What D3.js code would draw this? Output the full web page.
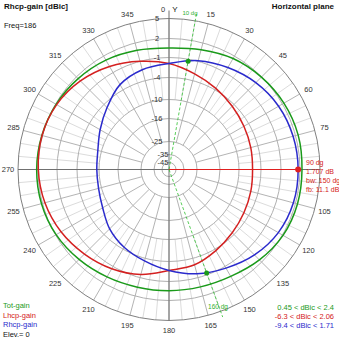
<!DOCTYPE html>
<html>
<head>
<meta charset="utf-8">
<script src="https://cdn.jsdelivr.net/npm/d3@7"></script>
<style>
  html, body { margin: 0; padding: 0; background: #fff; }
  svg { display: block; }
  text { font-family: "Liberation Sans", Arial, sans-serif; }
</style>
</head>
<body>
<svg id="chart" width="339" height="339"></svg>
<script>
// Azimuth angles (degrees, clockwise from top) for the gain samples
const azimuths = [0, 15, 30, 45, 60, 75, 90, 105, 120, 135, 150, 165, 180,
                  195, 210, 225, 240, 255, 270, 285, 300, 315, 330, 345];

// Gain in dBic per azimuth
const totGain  = [0.5, 0.9, 1.55, 1.95, 2.25, 2.4, 2.3, 2.3, 2.1, 1.5, 0.8, 0.5, 0.45,
                  0.55, 0.9, 1.4, 1.9, 2.15, 2.2, 2.1, 1.9, 1.6, 1.25, 0.8];
const lhcpGain = [-1.9, -2.95, -3.75, -4.7, -5.5, -6.0, -6.3, -6.0, -5.5, -4.7, -3.75, -3.0, -2.65,
                  -1.5, -0.6, 0.2, 1.0, 1.6, 1.95, 2.06, 1.8, 1.1, 0.1, -1.0];
const rhcpGain = [-1.9, -0.9, -0.1, 0.7, 1.3, 1.6, 1.707, 1.65, 1.25, 0.4, -0.7, -1.6, -2.65,
                  -3.6, -4.6, -6.2, -8.2, -9.2, -9.4, -9.0, -7.4, -5.2, -3.1, -2.3];

// Scale rings and their labels (dB)
const ringValues = [5, 2, -1, -4, -10, -16, -25, -35, -45];
const ringLabels = ["5", "2", "-1", "-4", "-10", "-16", "-25", "-35", "-45"];

// Azimuth tick labels
const angleTicks = [15, 30, 45, 60, 75, 105, 120, 135, 150, 165, 180, 195, 210,
                    225, 240, 255, 270, 285, 300, 315, 330, 345];

// Marker on the Rhcp maximum and its beamwidth edges
const markerAz = 90, markerGain = 1.707;
const bwEdges = [10, 160];
const bwGain = -1.293;
const markerLines = ["90 dg", "1.707 dB", "bw: 150 dg", "fb: 11.1 dB"];

const legendNames = ["Tot-gain", "Lhcp-gain", "Rhcp-gain"];
const legendRanges = ["0.45 < dBic < 2.4", "-6.3 < dBic < 2.06", "-9.4 < dBic < 1.71"];
const colors = ["#1a9a1a", "#d42020", "#2a2acc"];

const cx = 169, cy = 169.5;
const svg = d3.select("#chart");

// Logarithmic-style radial scale (piecewise through the ring positions)
const r = d3.scaleLinear()
  .domain([-45, -35, -25, -16, -10, -4, -1, 2, 5])
  .range([7, 15, 28, 51, 70, 92, 112, 131, 151])
  .clamp(true);
const R = r(5);
const rad = d => d * Math.PI / 180;

const g = svg.append("g").attr("transform", `translate(${cx},${cy})`);

// Minor spokes every 5 degrees, major every 15
const grid = g.append("g");
d3.range(0, 360, 5).forEach(a => {
  const major = a % 15 === 0;
  const r0 = major ? r(-25) : r(-10);
  grid.append("line")
    .attr("x1", r0 * Math.sin(rad(a))).attr("y1", -r0 * Math.cos(rad(a)))
    .attr("x2", R * Math.sin(rad(a))).attr("y2", -R * Math.cos(rad(a)))
    .attr("stroke", major ? "#b4b4b4" : "#dcdcdc").attr("stroke-width", 1);
});

// Rings
ringValues.forEach((v, i) => {
  grid.append("circle")
    .attr("r", r(v)).attr("fill", "none")
    .attr("stroke", i === 0 ? "#808080" : "#b0b0b0")
    .attr("stroke-width", 1);
});

// Axes
g.append("line").attr("x1", 0).attr("x2", 0).attr("y1", -R - 8).attr("y2", R)
  .attr("stroke", "#707070").attr("stroke-width", 1);
g.append("line").attr("x1", -R).attr("x2", R).attr("y1", 0).attr("y2", 0)
  .attr("stroke", "#707070").attr("stroke-width", 1);

// Ring labels
ringValues.forEach((v, i) => {
  g.append("text")
    .attr("x", v < -30 ? -6 : -12).attr("y", -r(v)).attr("dy", "0.35em")
    .attr("text-anchor", "middle").attr("font-size", 7.5).attr("fill", "#333")
    .text(ringLabels[i]);
});

// Azimuth labels
angleTicks.forEach(a => {
  const rr = R + 10;
  g.append("text")
    .attr("x", rr * Math.sin(rad(a))).attr("y", -rr * Math.cos(rad(a)))
    .attr("dy", "0.35em").attr("text-anchor", "middle")
    .attr("font-size", 7.5).attr("fill", "#333")
    .text(a);
});
g.append("text").attr("x", -6).attr("y", -R - 7).attr("text-anchor", "middle")
  .attr("font-size", 7.5).attr("fill", "#333").text("0");
g.append("text").attr("x", 6).attr("y", -R - 7).attr("text-anchor", "middle")
  .attr("font-size", 8).attr("fill", "#111").text("Y");

// Beamwidth edge lines
bwEdges.forEach(a => {
  const rr = a === 10 ? R + 9 : R + 6;
  g.append("line")
    .attr("x1", 0).attr("y1", 0)
    .attr("x2", rr * Math.sin(rad(a))).attr("y2", -rr * Math.cos(rad(a)))
    .attr("stroke", "#30c030").attr("stroke-width", 0.8)
    .attr("stroke-dasharray", "3,2");
});

// Marker line to the maximum
const mr = r(markerGain);
g.append("line").attr("x1", 0).attr("y1", 0)
  .attr("x2", mr * Math.sin(rad(markerAz))).attr("y2", -mr * Math.cos(rad(markerAz)))
  .attr("stroke", "#e02020").attr("stroke-width", 1);

// Gain patterns
const line = d3.lineRadial()
  .angle(d => rad(d[0]))
  .radius(d => r(d[1]))
  .curve(d3.curveCatmullRomClosed.alpha(0.5));

[totGain, lhcpGain, rhcpGain].forEach((series, i) => {
  g.append("path")
    .datum(azimuths.map((a, k) => [a, series[k]]))
    .attr("d", line)
    .attr("fill", "none").attr("stroke", colors[i]).attr("stroke-width", 1.5);
});

// Beamwidth edge dots and marker dot
bwEdges.forEach(a => {
  g.append("circle").attr("r", 2.5).attr("fill", "#1a9a1a")
    .attr("cx", r(bwGain) * Math.sin(rad(a))).attr("cy", -r(bwGain) * Math.cos(rad(a)));
});
g.append("circle").attr("r", 3).attr("fill", "#e02020")
  .attr("cx", mr * Math.sin(rad(markerAz))).attr("cy", -mr * Math.cos(rad(markerAz)));

// Beamwidth edge labels
g.append("text").attr("x", 21).attr("y", -R - 4).attr("text-anchor", "middle")
  .attr("font-size", 6).attr("fill", "#30b030").text("10 dg");
g.append("text").attr("x", 49).attr("y", 139).attr("text-anchor", "middle")
  .attr("font-size", 6.5).attr("fill", "#30b030").text("160 dg");

// Marker annotation
markerLines.forEach((t, i) => {
  svg.append("text").attr("x", 306).attr("y", 165 + i * 9)
    .attr("font-size", 7).attr("fill", "#d42020").text(t);
});

// Titles
svg.append("text").attr("x", 4).attr("y", 9).attr("font-size", 8)
  .attr("font-weight", "bold").attr("fill", "#111").text("Rhcp-gain [dBic]");
svg.append("text").attr("x", 4).attr("y", 28).attr("font-size", 7.5)
  .attr("fill", "#111").text("Freq=186");
svg.append("text").attr("x", 334).attr("y", 9).attr("font-size", 8)
  .attr("text-anchor", "end").attr("font-weight", "bold").attr("fill", "#111")
  .text("Horizontal plane");

// Legends
legendNames.forEach((t, i) => {
  svg.append("text").attr("x", 3).attr("y", 308 + i * 9.5).attr("font-size", 7.5)
    .attr("fill", colors[i]).text(t);
  svg.append("text").attr("x", 334).attr("y", 310 + i * 9).attr("font-size", 7.5)
    .attr("text-anchor", "end").attr("fill", colors[i]).text(legendRanges[i]);
});
svg.append("text").attr("x", 3).attr("y", 336.5).attr("font-size", 7.5)
  .attr("fill", "#111").text("Elev.= 0");
</script>
</body>
</html>
